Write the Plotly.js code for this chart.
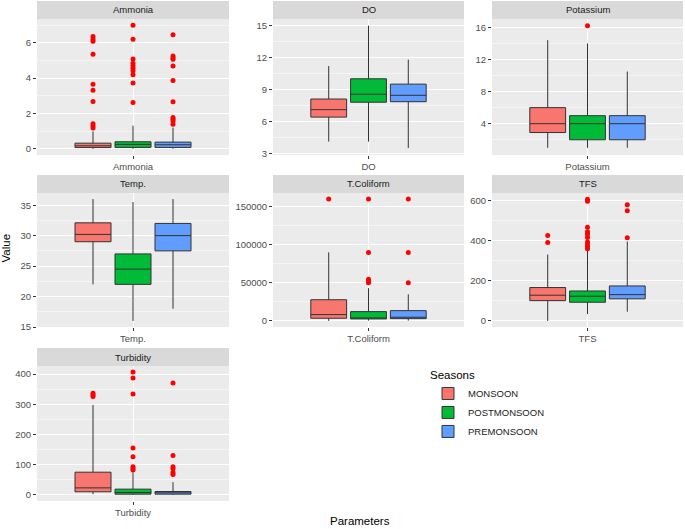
<!DOCTYPE html>
<html><head><meta charset="utf-8">
<script src="https://cdn.plot.ly/plotly-3.0.1.min.js"></script>
<style>html,body{margin:0;padding:0;background:#fff}</style>
</head><body><div id="chart" style="width:685px;height:529px"></div>
<script>
// ---------- data ----------
const params = ['Ammonia', 'DO', 'Potassium', 'Temp.', 'T.Coliform', 'TFS', 'Turbidity'];
const seasons = ['MONSOON', 'POSTMONSOON', 'PREMONSOON'];

// MONSOON
const monsoonQ1     = [0.07, 6.4, 2.9, 29.0, 3500, 101, 10];
const monsoonMedian = [0.17, 7.1, 4.0, 30.2, 8300, 128, 23];
const monsoonQ3     = [0.32, 8.1, 6.0, 32.1, 27800, 166, 75];
const monsoonLow    = [0.0, 4.1, 1.0, 22.0, 0, 0, 2];
const monsoonHigh   = [0.99, 11.2, 14.4, 36.0, 90000, 330, 298];
const monsoonOut = [
  [6.36, 6.21, 6.09, 5.35, 3.66, 3.32, 2.68, 1.42, 1.29, 1.18],
  [], [], [],
  [160000],
  [425, 390],
  [337, 331, 326]
];

// POSTMONSOON
const postQ1     = [0.08, 7.8, 2.0, 22.0, 2600, 93, 2.2];
const postMedian = [0.25, 8.55, 4.0, 24.5, 3900, 123, 7.7];
const postQ3     = [0.40, 10.0, 5.0, 27.0, 12200, 149, 18.8];
const postLow    = [0.0, 4.1, 1.0, 16.0, 300, 34, 0];
const postHigh   = [1.31, 15.0, 14.0, 35.5, 43000, 348, 74];
const postOut = [
  [6.99, 6.21, 5.09, 4.84, 4.71, 4.56, 4.42, 4.2, 3.72, 2.62],
  [],
  [16.2],
  [],
  [160000, 90000, 54800, 52600, 50000],
  [605, 595, 466, 443, 431, 415, 393, 379, 367, 359],
  [407, 387, 334, 155, 126, 93, 87, 82]
];

// PREMONSOON
const preQ1     = [0.08, 7.85, 2.0, 27.5, 3000, 110, 2.2];
const preMedian = [0.23, 8.45, 4.0, 30.0, 4800, 131, 6.6];
const preQ3     = [0.38, 9.5, 5.0, 32.0, 13500, 174, 11];
const preLow    = [0.0, 3.5, 1.0, 18.0, 300, 46, 0];
const preHigh   = [1.2, 11.8, 10.5, 36.0, 35000, 395, 42];
const preOut = [
  [6.46, 5.26, 5.16, 5.07, 4.69, 3.87, 2.66, 1.77, 1.67, 1.58, 1.39],
  [], [], [],
  [160000, 90000, 50000],
  [577, 548, 413],
  [371, 130, 93, 86, 74, 67]
];

// ---------- styling / layout ----------
const seasonColors = ['#F8766D', '#00BA38', '#619CFF'];
const yRanges = [[-0.35, 7.35], [2.84, 15.62], [0.1, 17.04], [15, 37], [-8000, 168000], [-30, 636], [-20.5, 427]];
const yDticks = [2, 3, 4, 5, 50000, 200, 100];

const W = 685, H = 529;
const colPx = [[37, 229], [273, 464], [492, 683]];
const rowPx = [[19, 155], [193, 327], [366, 501]];
const FONT = 'Liberation Sans, Arial, sans-serif';

const stats = [
  [monsoonQ1, monsoonMedian, monsoonQ3, monsoonLow, monsoonHigh, monsoonOut],
  [postQ1, postMedian, postQ3, postLow, postHigh, postOut],
  [preQ1, preMedian, preQ3, preLow, preHigh, preOut]
];

const traces = [];
const layout = {
  width: W, height: H,
  margin: {l: 0, r: 0, t: 0, b: 0},
  paper_bgcolor: '#FFFFFF',
  plot_bgcolor: '#EBEBEB',
  font: {family: FONT, size: 9.5, color: '#4D4D4D'},
  boxmode: 'group',
  boxgap: 0.25,
  boxgroupgap: 0.1,
  showlegend: true,
  legend: {
    x: 428 / W, y: 1 - 364 / H, xanchor: 'left', yanchor: 'top',
    bgcolor: 'rgba(0,0,0,0)',
    font: {family: FONT, size: 9.5, color: '#1A1A1A'},
    title: {text: 'Seasons', font: {family: FONT, size: 11.5, color: '#000000'}},
    tracegroupgap: 0
  },
  shapes: [],
  annotations: []
};

params.forEach((p, i) => {
  const col = i % 3, row = Math.floor(i / 3);
  const sfx = i === 0 ? '' : String(i + 1);
  const xd = [colPx[col][0] / W, colPx[col][1] / W];
  const yd = [1 - rowPx[row][1] / H, 1 - rowPx[row][0] / H];

  seasons.forEach((s, k) => {
    const st = stats[k];
    const tr = {
      type: 'box',
      name: s,
      showlegend: i === 0,
      alignmentgroup: 'panel' + i,
      offsetgroup: s,
      x: [p],
      q1: [st[0][i]], median: [st[1][i]], q3: [st[2][i]],
      lowerfence: [st[3][i]], upperfence: [st[4][i]],
      boxpoints: 'outliers', jitter: 0, pointpos: 0,
      whiskerwidth: 0,
      fillcolor: seasonColors[k],
      line: {color: '#333333', width: 1},
      marker: {color: '#FF0000', size: 5, line: {width: 0}},
      xaxis: 'x' + sfx, yaxis: 'y' + sfx,
      hoverinfo: 'skip'
    };
    if (st[5][i].length) tr.y = [st[5][i]];
    traces.push(tr);
  });

  layout['xaxis' + sfx] = {
    domain: xd, anchor: 'y' + sfx, type: 'category',
    range: [-0.6, 0.6], fixedrange: true,
    showgrid: true, gridcolor: '#FFFFFF', gridwidth: 1,
    zeroline: false, showline: false,
    ticks: 'outside', ticklen: 3, tickwidth: 1, tickcolor: '#333333',
    tickfont: {family: FONT, size: 9.5, color: '#4D4D4D'}
  };
  layout['yaxis' + sfx] = {
    domain: yd, anchor: 'x' + sfx,
    range: yRanges[i], fixedrange: true,
    tick0: 0, dtick: yDticks[i], tickformat: 'd',
    showgrid: true, gridcolor: '#FFFFFF', gridwidth: 1,
    minor: {tick0: 0, dtick: yDticks[i] / 2, showgrid: true, gridcolor: '#FFFFFF', gridwidth: 0.5, ticks: ''},
    zeroline: false, showline: false,
    ticks: 'outside', ticklen: 3, tickwidth: 1, tickcolor: '#333333',
    tickfont: {family: FONT, size: 9.5, color: '#4D4D4D'}
  };

  // facet strip
  layout.shapes.push({
    type: 'rect', xref: 'paper', yref: 'paper',
    x0: xd[0], x1: xd[1], y0: yd[1], y1: yd[1] + 18 / H,
    fillcolor: '#D9D9D9', line: {width: 0}
  });
  layout.annotations.push({
    xref: 'paper', yref: 'paper', x: (xd[0] + xd[1]) / 2, y: yd[1] + 9 / H,
    text: p, showarrow: false, xanchor: 'center', yanchor: 'middle',
    font: {family: FONT, size: 9.5, color: '#1A1A1A'}
  });
});

layout.annotations.push({
  xref: 'paper', yref: 'paper', x: 5.5 / W, y: 1 - 248 / H,
  text: 'Value', showarrow: false, textangle: -90, xanchor: 'center', yanchor: 'middle',
  font: {family: FONT, size: 11.5, color: '#000000'}
});
layout.annotations.push({
  xref: 'paper', yref: 'paper', x: 360 / W, y: 1 - 521 / H,
  text: 'Parameters', showarrow: false, xanchor: 'center', yanchor: 'middle',
  font: {family: FONT, size: 11.5, color: '#000000'}
});

Plotly.newPlot('chart', traces, layout, {displayModeBar: false, staticPlot: true});
</script>
</body></html>
